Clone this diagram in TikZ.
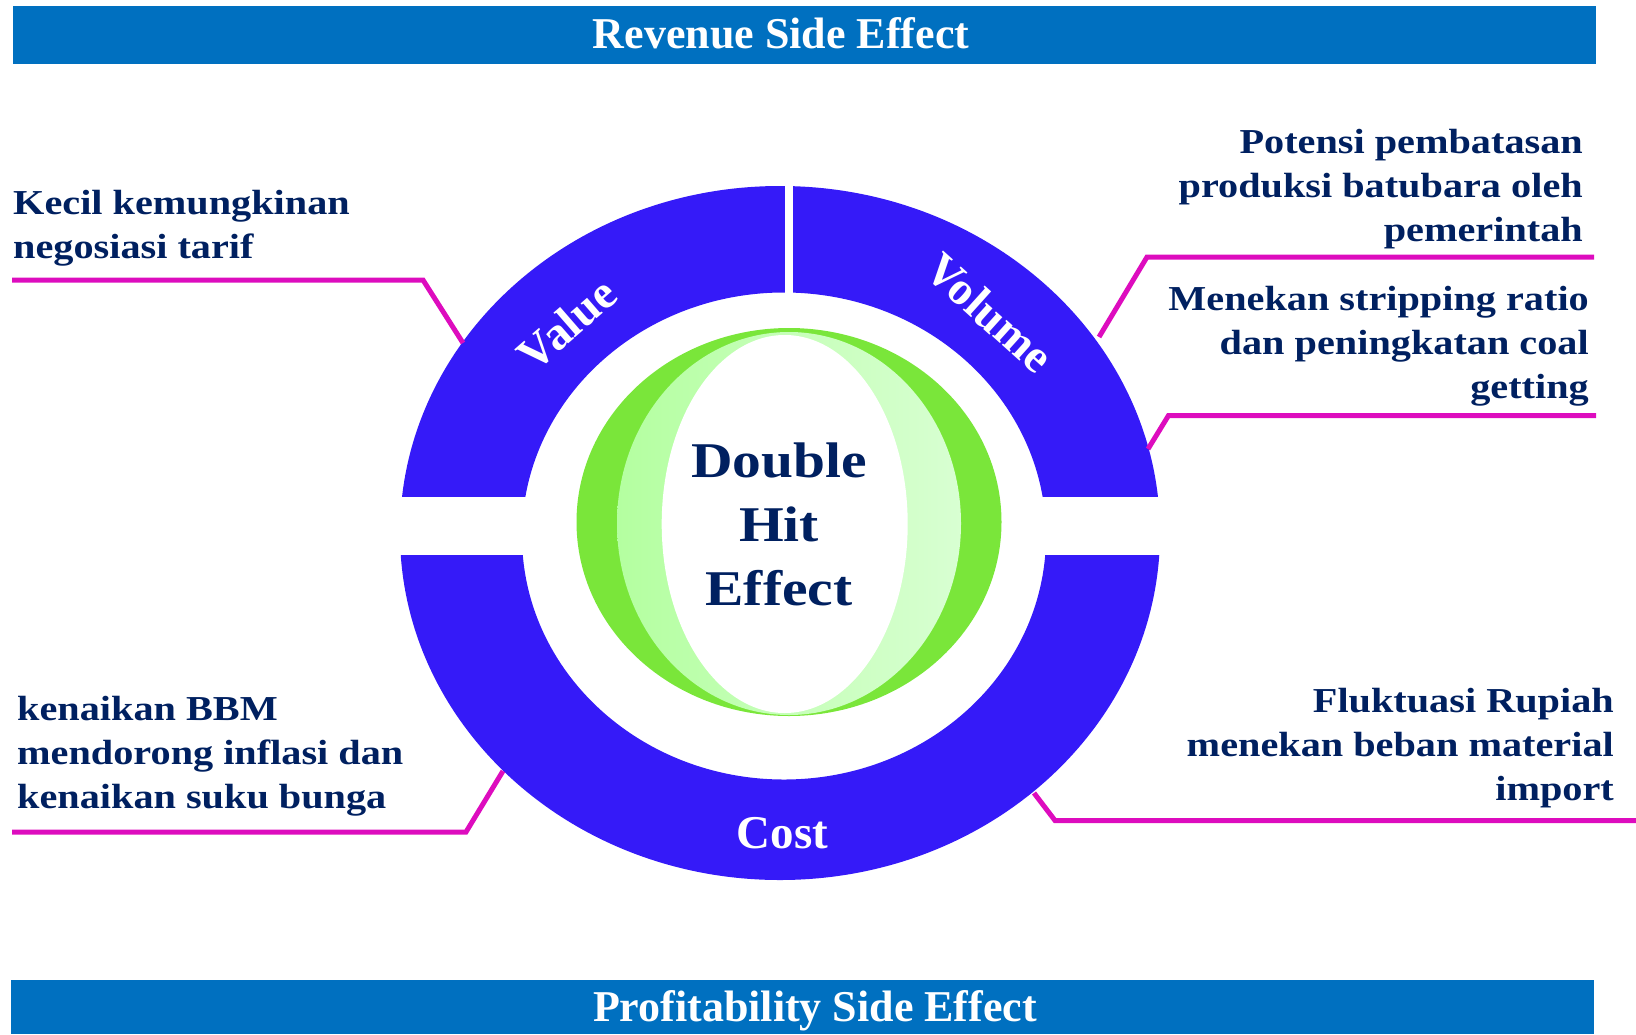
\documentclass[tikz,border=0pt]{standalone}
\usepackage{fontspec}
\setmainfont{Liberation Serif}
\newfontfamily\notefont[FakeStretch=1.15]{Liberation Serif}
\usetikzlibrary{calc,positioning}

\definecolor{barblue}{RGB}{0,112,192}
\definecolor{ringblue}{RGB}{53,26,248}
\definecolor{calloutpink}{RGB}{221,12,190}
\definecolor{notenavy}{RGB}{0,32,96}
\definecolor{ballgreen}{RGB}{122,230,58}
\definecolor{lensleft}{RGB}{180,255,160}
\definecolor{lensright}{RGB}{216,255,210}

\begin{document}
\begin{tikzpicture}[x=1bp,y=-1bp]

\tikzset{
bar/.style={fill=barblue},
bartext/.style={text=white,font=\bfseries\fontsize{44bp}{50bp}\selectfont,inner sep=0pt,anchor=base},
ring/.style={fill=ringblue,even odd rule},
gap/.style={fill=white},
ringtext/.style={text=white,font=\bfseries\fontsize{47bp}{50bp}\selectfont,inner sep=0pt},
note/.style={text=notenavy,font=\notefont\bfseries\fontsize{35bp}{44bp}\selectfont,inner sep=0pt},
callout/.style={draw=calloutpink,line width=5bp}
}

\useasboundingbox (0,0) rectangle (1636,1034);

% Bars
\fill[bar] (12.5,6) rectangle (1596,63.5);
\fill[bar] (10.5,980) rectangle (1594,1034);
\node[bartext] (revenue) at (781,48.5) {Revenue Side Effect};
\node[bartext] (profit) at (815,1021.5) {Profitability Side Effect};

% Ring
\fill[ring] (780,533) ellipse [x radius=380bp, y radius=347bp]
            (784,536) ellipse [x radius=262bp, y radius=243.5bp];
\fill[gap] (390,497) rectangle (1170,555);
\fill[gap] (785,180) rectangle (793.3,497);

% Ball
\fill[ballgreen] (789,522) ellipse [x radius=212.5bp, y radius=194bp];
\shade[left color=lensleft,right color=lensright] (789,523.5) ellipse [x radius=172bp, y radius=191.5bp];
\fill[white] (784.7,524) ellipse [x radius=123bp, y radius=189bp];

% Ring labels
\node[ringtext,rotate=41] (value) at (567,324) {Value};
\node[ringtext,rotate=-42] (volume) at (990,313) {Volume};
\node[ringtext,anchor=base] (cost) at (782.5,848.3) {Cost};

\node[note,anchor=base,align=center,font=\notefont\bfseries\fontsize{50bp}{64bp}\selectfont] (hit) at (779,605) {Double\\Hit\\Effect};

% Notes (base = last line)
\node[note,anchor=base west,align=left] (tarif) at (13,258) {Kecil kemungkinan\\negosiasi tarif};
\node[note,anchor=base east,align=right] (produksi) at (1583,241) {Potensi pembatasan\\produksi batubara oleh\\pemerintah};
\node[note,anchor=base east,align=right] (stripping) at (1589,398) {Menekan stripping ratio\\dan peningkatan coal\\getting};
\node[note,anchor=base west,align=left] (bbm) at (17,808) {kenaikan BBM\\mendorong inflasi dan\\kenaikan suku bunga};
\node[note,anchor=base east,align=right] (rupiah) at (1614,800) {Fluktuasi Rupiah\\menekan beban material\\import};

% Callouts
\coordinate (tarifend) at (12,280);
\coordinate (tarifbend) at (423,280);
\coordinate (tariftip) at (463,343);
\coordinate (produksiend) at (1594,257);
\coordinate (produksibend) at (1147,257);
\coordinate (produksitip) at (1099,337);
\coordinate (strippingend) at (1596,415.5);
\coordinate (strippingbend) at (1168.5,415.5);
\coordinate (strippingtip) at (1148,449);
\coordinate (bbmend) at (12,832);
\coordinate (bbmbend) at (466,832);
\coordinate (bbmtip) at (503,771);
\coordinate (rupiahend) at (1636,820.5);
\coordinate (rupiahbend) at (1055,820.5);
\coordinate (rupiahtip) at (1034,793);

\draw[callout] (tarifend) -- (tarifbend) -- (tariftip);
\draw[callout] (produksiend) -- (produksibend) -- (produksitip);
\draw[callout] (strippingend) -- (strippingbend) -- (strippingtip);
\draw[callout] (bbmend) -- (bbmbend) -- (bbmtip);
\draw[callout] (rupiahend) -- (rupiahbend) -- (rupiahtip);

\end{tikzpicture}
\end{document}
